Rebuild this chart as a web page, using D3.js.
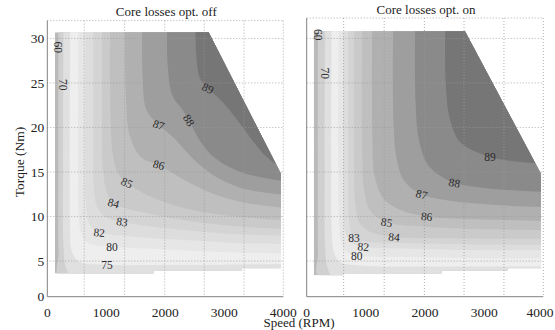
<!DOCTYPE html>
<html>
<head>
<meta charset="utf-8">
<script src="https://cdn.jsdelivr.net/npm/d3@7"></script>
<style>
body{margin:0;background:#fff;}
text{font-family:"Liberation Serif","DejaVu Serif",serif;fill:#222;}
</style>
</head>
<body>
<div id="chart"></div>
<script>
//Contour levels (efficiency %)
var levels = [60, 70, 75, 80, 82, 83, 84, 85, 86, 87, 88, 89];

//Tick labels and grid positions
var xTicks = [0, 1000, 2000, 3000, 4000];
var yTicks = [0, 5, 10, 15, 20, 25, 30];
var gridSpeeds = [625, 1310, 1990, 2660, 3335];
var gridTorques = [5, 10, 15, 20, 25, 30];

//Operating envelope [speed, torque]
var offEnvelope = [[130,3.6],[130,30.7],[2735,30.7],[3960,14.8],[3960,4.2],[3300,4.2],[3300,3.9],[1800,3.9],[1800,3.6]];
var onEnvelope = [[120,3.4],[120,30.8],[2676,30.8],[3960,14.8],[3960,4.2],[3400,4.2],[3400,3.9],[2280,3.9],[2280,3.6],[620,3.6],[620,3.4]];

//Contour lines, one per level [speed, torque]
var offContours = [
  [[190,33],[188,15],[190,6],[220,3.0],[4300,2.8]],
  [[272,33],[268,15],[272,7],[320,4.2],[450,3.2],[4300,3.0]],
  [[386,33],[380,15],[385,9],[420,6],[550,4.9],[1011,4.6],[2000,4.55],[3000,4.6],[4300,4.7]],
  [[528,33],[522,15],[530,10.5],[580,8],[700,7],[1096,6.6],[2000,6.3],[3000,6.0],[4300,5.8]],
  [[650,33],[645,15],[652,11.5],[700,9.4],[780,8.6],[880,8.2],[1500,7.7],[2500,7.3],[3300,7.0],[4300,6.9]],
  [[783,33],[780,18],[790,13],[850,11],[1000,9.9],[1266,9.4],[2000,8.7],[3000,8.1],[4300,7.8]],
  [[930,33],[928,20],[945,15],[1010,12.7],[1123,11.5],[1600,10.5],[2300,9.6],[3200,8.9],[4300,8.5]],
  [[1067,33],[1070,22],[1110,17],[1200,14.8],[1351,13.8],[1700,12.4],[2300,11.0],[3200,10.0],[4300,9.5]],
  [[1322,33],[1330,24],[1400,19],[1600,16.6],[1889,15.8],[2300,14.2],[2800,12.6],[3400,11.5],[4300,10.8]],
  [[1607,33],[1615,26],[1680,22],[1889,20.3],[2150,18.8],[2500,16.3],[2900,14.3],[3400,13.0],[4300,12.3]],
  [[2032,33],[2040,27],[2120,23.6],[2280,22.1],[2400,20.8],[2560,18.8],[2800,16.8],[3200,15.2],[3700,14.3],[4300,13.8]],
  [[2513,33],[2525,28],[2590,25.5],[2723,24.4],[2950,23.0],[3200,21.0],[3450,18.8],[3700,16.8],[4300,14]]
];
var onContours = [
  [[191,33],[189,15],[192,6],[220,3.0],[4300,2.8]],
  [[309,33],[305,15],[310,7],[350,4.3],[450,3.2],[4300,3.0]],
  [[420,33],[415,15],[420,9],[460,6],[560,4.9],[900,4.5],[2000,4.4],[4300,4.4]],
  [[540,33],[535,15],[545,10],[590,7],[700,5.9],[845,5.6],[1500,5.45],[2500,5.35],[4300,5.3]],
  [[620,33],[618,15],[625,10],[660,8],[760,7],[957,6.6],[1600,6.4],[2600,6.25],[4300,6.2]],
  [[700,33],[698,15],[705,10.5],[740,8.5],[800,7.6],[1000,7.2],[1800,7.0],[3000,6.85],[4300,6.8]],
  [[800,33],[800,16],[820,11.5],[900,9.2],[1100,8.2],[1476,7.7],[2300,7.55],[3300,7.5],[4300,7.5]],
  [[938,33],[940,17],[970,13],[1080,10.6],[1352,9.35],[1900,8.9],[2800,8.6],[4300,8.45]],
  [[1107,33],[1110,19],[1150,14.5],[1300,12],[1600,10.7],[2029,10.0],[2800,9.7],[4300,9.5]],
  [[1462,33],[1465,21],[1520,16.5],[1650,14],[1944,12.5],[2400,11.8],[3200,11.3],[4300,11.0]],
  [[1834,33],[1840,23],[1900,18.5],[2050,15.8],[2300,14.4],[2497,13.8],[3000,13.2],[3600,12.9],[4300,12.7]],
  [[2341,33],[2350,25],[2420,21],[2600,18.3],[3099,16.7],[3500,16.2],[4300,15.8]]
];

//Inline contour labels [text, speed, torque]
var offLabels = [["60",187,29.0],["70",272,24.8],["89",2723,24.4],["88",2400,20.8],["87",1889,20.3],["86",1889,15.8],
                 ["85",1351,13.8],["84",1123,11.5],["83",1266,9.4],["82",880,8.2],["80",1096,6.6],["75",1011,4.6]];
var offAngles = [90, 90, 25, 58, 20, 15, 25, 15, 10, 5, 0, 0];
var onLabels = [["60",191,30.4],["70",309,26.1],["89",3099,16.7],["88",2497,13.8],["87",1944,12.5],["86",2029,10.0],
                ["85",1352,9.35],["84",1476,7.7],["83",800,7.6],["82",957,6.6],["80",845,5.6]];
var onAngles = [90, 90, 0, 10, 15, 5, 10, 5, 0, 5, 0];

//Fill for each band: below 60, then one per level
var bandColors = ["#bababa","#d0d0d0","#e0e0e0","#eeeeee","#e6e6e6","#dddddd","#d4d4d4",
                  "#cacaca","#bfbfbf","#b0b0b0","#9e9e9e","#8a8a8a","#767676"];

//SVG area
var svgWidth = 555;
var svgHeight = 330;
var plotBottom = 296.7;

var svg = d3.select("#chart").append("svg")
    .attr("width", svgWidth)
    .attr("height", svgHeight);
var defs = svg.append("defs");

//Shared torque scale
var yScale = d3.scaleLinear()
    .domain([1, 32])
    .range([plotBottom, 20.6])
    .clamp(true);

var panels = [
  {left: 47.3, right: 283.3, top: 20.6, title: "Core losses opt. off", titleY: 16,
   envelope: offEnvelope, contours: offContours, labels: offLabels, angles: offAngles, yLabels: true},
  {left: 306.7, right: 543.3, top: 18, title: "Core losses opt. on", titleY: 13.5,
   envelope: onEnvelope, contours: onContours, labels: onLabels, angles: onAngles, yLabels: false}
];

panels.forEach(function(p, i) {
  var xScale = d3.scaleLinear()
      .domain([0, 4000])
      .range([p.left, p.right]);

  var line = d3.line()
      .x(d => xScale(d[0]))
      .y(d => yScale(d[1]));
  var smooth = d3.line()
      .x(d => xScale(d[0]))
      .y(d => yScale(d[1]))
      .curve(d3.curveCatmullRom.alpha(0.5));

  defs.append("clipPath").attr("id", "env" + i)
      .append("path").attr("d", line(p.envelope) + "Z");

  var fills = svg.append("g").attr("clip-path", `url(#env${i})`);

  //base band
  fills.append("path")
      .attr("d", line(p.envelope) + "Z")
      .attr("fill", bandColors[0]);

  //each level fills everything above/right of its contour
  fills.selectAll(".band")
      .data(p.contours)
      .enter()
      .append("path")
      .attr("class", "band")
      .attr("d", d => smooth(d) + `L${xScale(4300)},${yScale(33)}Z`)
      .attr("fill", (d, k) => bandColors[k + 1]);

  //grid
  var grid = svg.append("g")
      .attr("stroke", "#9a9a9a")
      .attr("stroke-width", 0.8)
      .attr("stroke-dasharray", "1,2");
  grid.selectAll(".vg").data(gridSpeeds).enter().append("line")
      .attr("x1", d => xScale(d)).attr("x2", d => xScale(d))
      .attr("y1", p.top).attr("y2", plotBottom);
  grid.selectAll(".hg").data(gridTorques).enter().append("line")
      .attr("x1", p.left).attr("x2", p.right)
      .attr("y1", d => yScale(d)).attr("y2", d => yScale(d));
  //top and right border, dotted
  grid.append("line").attr("x1", p.left).attr("x2", p.right).attr("y1", p.top).attr("y2", p.top);
  grid.append("line").attr("x1", p.right).attr("x2", p.right).attr("y1", p.top).attr("y2", plotBottom);

  //left and bottom axis lines
  svg.append("path")
      .attr("d", `M${p.left},${p.top}V${plotBottom}H${p.right}`)
      .attr("fill", "none")
      .attr("stroke", "#808080")
      .attr("stroke-width", 1);

  //contour labels
  svg.append("g").selectAll("text")
      .data(p.labels)
      .enter()
      .append("text")
      .attr("transform", (d, k) => `translate(${xScale(d[1])},${yScale(d[2])}) rotate(${p.angles[k]})`)
      .attr("text-anchor", "middle")
      .attr("dy", "0.35em")
      .style("font-size", "11.5px")
      .style("fill", "#2b2b2b")
      .text(d => d[0]);

  //x tick labels (last one kept inside the picture)
  svg.append("g").selectAll("text")
      .data(xTicks)
      .enter()
      .append("text")
      .attr("x", d => Math.min(xScale(d), 540))
      .attr("y", 317)
      .attr("text-anchor", "middle")
      .style("font-size", "13.5px")
      .text(d => d);

  //y tick labels
  if (p.yLabels) {
    svg.append("g").selectAll("text")
        .data(yTicks)
        .enter()
        .append("text")
        .attr("x", p.left - 3)
        .attr("y", d => yScale(d))
        .attr("dy", "0.35em")
        .attr("text-anchor", "end")
        .style("font-size", "13.5px")
        .text(d => d);
  }

  //title
  svg.append("text")
      .attr("x", (p.left + p.right) / 2 + 1)
      .attr("y", p.titleY)
      .attr("text-anchor", "middle")
      .style("font-size", "13px")
      .text(p.title);
});

//axis titles
svg.append("text")
    .attr("transform", `translate(24, 162)rotate(-90)`)
    .attr("text-anchor", "middle")
    .style("font-size", "13.5px")
    .text("Torque (Nm)");

svg.append("text")
    .attr("x", 299)
    .attr("y", 327)
    .attr("text-anchor", "middle")
    .style("font-size", "13px")
    .text("Speed (RPM)");
</script>
</body>
</html>
